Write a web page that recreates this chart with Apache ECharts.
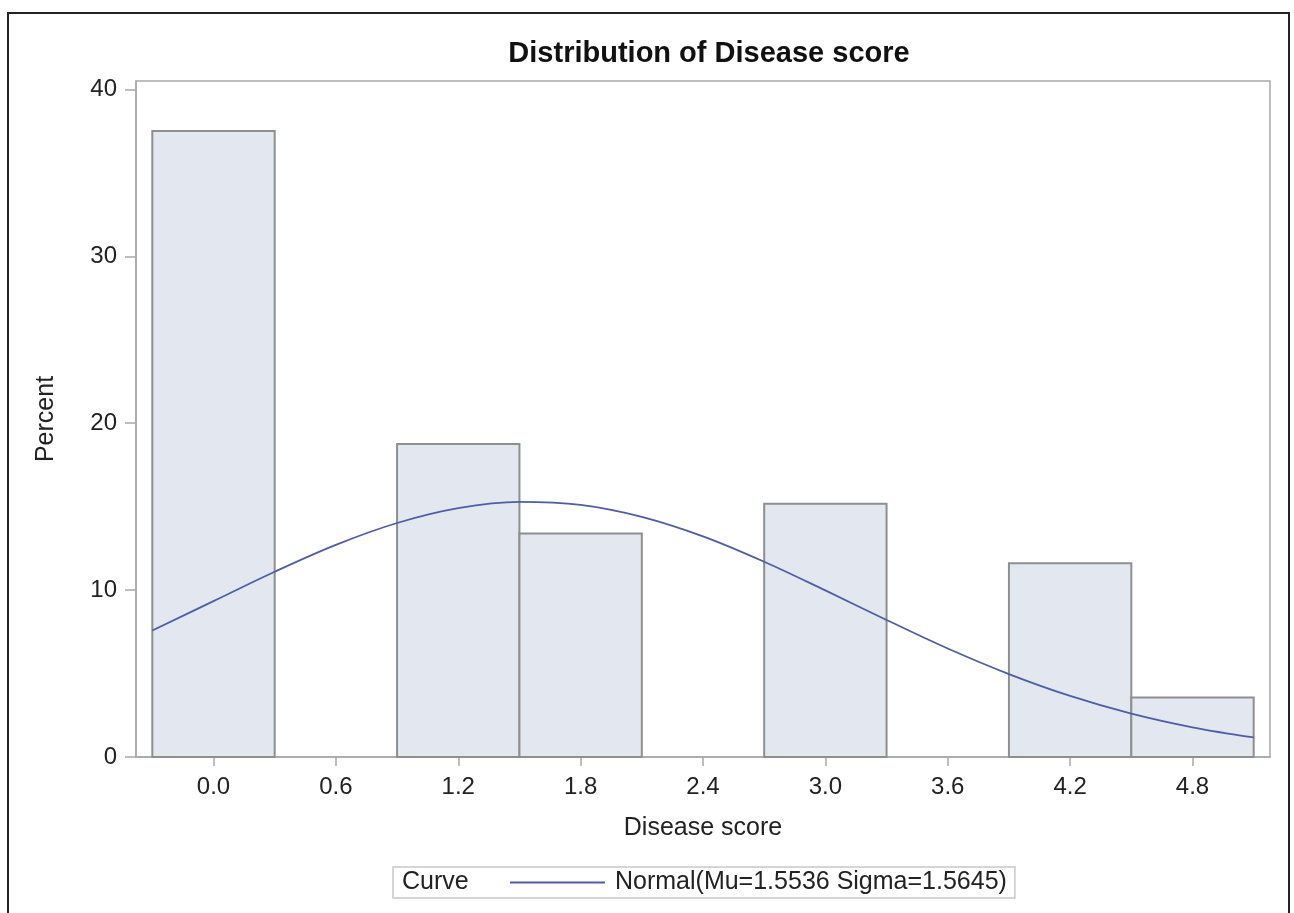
<!DOCTYPE html>
<html>
<head>
<meta charset="utf-8">
<title>Distribution of Disease score</title>
<script src="https://cdn.jsdelivr.net/npm/echarts@6/dist/echarts.min.js"></script>
<style>
  html, body { margin: 0; padding: 0; background: #fff; }
  #chart { width: 1294px; height: 913px; }
</style>
</head>
<body>
<div id="chart"></div>
<script>
// Histogram bins (midpoints) and the percent of observations in each
const binMidpoints = [0.0, 0.6, 1.2, 1.8, 2.4, 3.0, 3.6, 4.2, 4.8];
const binPercent   = [37.50, 0, 18.75, 13.39, 0, 15.18, 0, 11.61, 3.57];
const binWidth = 0.6;

// Fitted normal density curve, in percent units
const curveX = [-0.3, 0.0, 0.3, 0.6, 0.9, 1.2, 1.5, 1.8, 2.1, 2.4, 2.7, 3.0, 3.3, 3.6, 3.9, 4.2, 4.5, 4.8, 5.1];
const curveY = [7.58, 9.34, 11.10, 12.71, 14.02, 14.91, 15.29, 15.11, 14.39, 13.22, 11.70, 9.98, 8.21, 6.50, 4.97, 3.66, 2.60, 1.78, 1.17];

// Tick labels
const xTicks = [0.0, 0.6, 1.2, 1.8, 2.4, 3.0, 3.6, 4.2, 4.8];
const yTicks = [0, 10, 20, 30, 40];

const curveName = 'Normal(Mu=1.5536 Sigma=1.5645)';
const FONT = '"Liberation Sans", Arial, sans-serif';

const barData = binMidpoints
  .map((m, i) => [m - binWidth / 2, m + binWidth / 2, binPercent[i]])
  .filter(d => d[2] > 0);

const chart = echarts.init(document.getElementById('chart'));

chart.setOption({
  animation: false,
  backgroundColor: '#fff',
  textStyle: { fontFamily: FONT },
  title: {
    text: 'Distribution of Disease score',
    left: 704,
    textAlign: 'center',
    top: 34,
    textStyle: { fontFamily: FONT, fontSize: 29, fontWeight: 'bold', color: '#111' }
  },
  grid: {
    left: 136, right: 24, top: 81, bottom: 156,
    show: true, borderColor: '#a9a9a9', borderWidth: 1.5, backgroundColor: '#fff'
  },
  xAxis: {
    type: 'value',
    min: -0.38,
    max: 5.18,
    name: 'Disease score',
    nameLocation: 'middle',
    nameGap: 59,
    nameTextStyle: { fontFamily: FONT, fontSize: 25, color: '#222' },
    axisLine: { show: true, onZero: false, lineStyle: { color: '#a9a9a9', width: 1.5 } },
    axisTick: { show: true, length: 9, customValues: xTicks, lineStyle: { color: '#a9a9a9', width: 1.5 } },
    axisLabel: {
      customValues: xTicks,
      margin: 18,
      fontFamily: FONT, fontSize: 24, color: '#222',
      formatter: v => v.toFixed(1)
    },
    splitLine: { show: false }
  },
  yAxis: {
    type: 'value',
    min: 0,
    max: 40.5,
    name: 'Percent',
    nameLocation: 'middle',
    nameGap: 77,
    nameRotate: 90,
    nameTextStyle: { fontFamily: FONT, fontSize: 25, color: '#222' },
    axisLine: { show: true, onZero: false, lineStyle: { color: '#a9a9a9', width: 1.5 } },
    axisTick: { show: true, length: 11, customValues: yTicks, lineStyle: { color: '#a9a9a9', width: 1.5 } },
    axisLabel: {
      customValues: yTicks,
      margin: 19,
      fontFamily: FONT, fontSize: 24, color: '#222'
    },
    splitLine: { show: false }
  },
  legend: {
    data: [curveName],
    left: 393,
    top: 867,
    padding: [3, 8, 3, 117],
    borderColor: '#c8c8c8',
    borderWidth: 1.5,
    icon: 'rect',
    itemWidth: 95,
    itemHeight: 2,
    selectedMode: false,
    textStyle: { fontFamily: FONT, fontSize: 25, color: '#222', padding: [0, 0, 0, 5] }
  },
  graphic: [
    {
      type: 'rect',
      silent: true,
      shape: { x: 8, y: 13, width: 1281, height: 920 },
      style: { fill: null, stroke: '#222', lineWidth: 2 }
    },
    {
      type: 'text',
      silent: true,
      left: 402,
      top: 870,
      style: { text: 'Curve', fontFamily: FONT, fontSize: 25, fill: '#222' }
    }
  ],
  series: [
    {
      type: 'custom',
      name: 'Histogram',
      data: barData,
      renderItem: (params, api) => {
        const p0 = api.coord([api.value(0), 0]);
        const p1 = api.coord([api.value(1), api.value(2)]);
        return {
          type: 'rect',
          shape: { x: p0[0], y: p1[1], width: p1[0] - p0[0], height: p0[1] - p1[1] },
          style: { fill: '#e2e7f0', stroke: '#8f8f8f', lineWidth: 2 }
        };
      },
      encode: { x: [0, 1], y: 2 },
      z: 2
    },
    {
      type: 'line',
      name: curveName,
      data: curveX.map((x, i) => [x, curveY[i]]),
      smooth: 0.35,
      symbol: 'none',
      lineStyle: { color: '#4d5ea6', width: 1.8 },
      itemStyle: { color: '#4d5ea6' },
      z: 3
    }
  ]
});
</script>
</body>
</html>
